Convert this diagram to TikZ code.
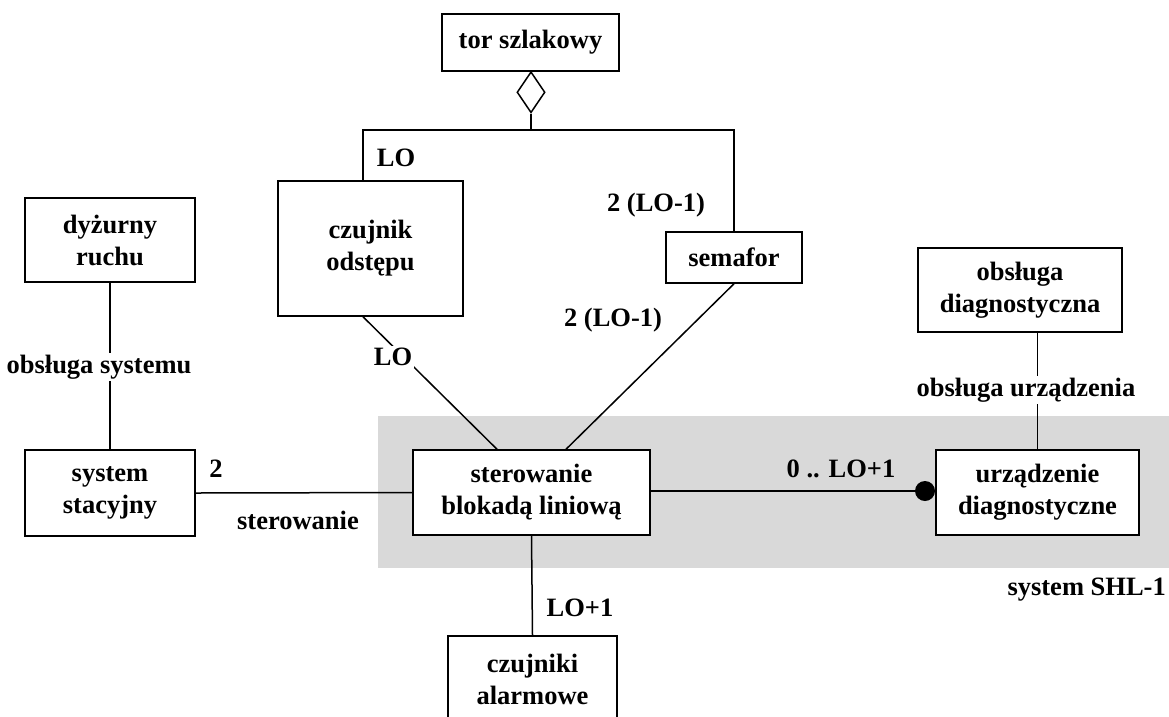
\documentclass[tikz,border=0pt]{standalone}
\usepackage{fontspec}
\setmainfont{Liberation Serif}
\usetikzlibrary{shapes.geometric,calc}
\definecolor{sysgray}{RGB}{217,217,217}
\newcommand{\lblfont}{\fontsize{26.5}{32}\selectfont\bfseries}
\tikzset{
  box/.style={draw, line width=1.5pt, fill=white, align=center, inner sep=0pt, font=\lblfont},
  conn/.style={line width=1.5pt},
  lbl/.style={font=\lblfont, inner sep=1pt},
  lblw/.style={font=\lblfont, inner sep=2pt, fill=white},
}
\begin{document}
\begin{tikzpicture}[x=1pt,y=-1pt]
\useasboundingbox (0,0) rectangle (1169,716);
\begin{scope}
\clip (0,0) rectangle (1169,716);
% system region
\fill[sysgray] (378,416) rectangle (1169,568);
\node[lbl, anchor=east] (shl) at (1167,590) {system SHL-1};

% nodes
\node[box, minimum width=177, minimum height=57] (tor) at (530.5,42.5) {tor szlakowy};
\node[draw, line width=1.5pt, fill=white, shape=diamond, inner sep=0pt, minimum width=28, minimum height=41, anchor=north] (agg) at (531,71) {};
\coordinate (jM) at (531,130);
\coordinate (jL) at (363,130);
\coordinate (jR) at (734,130);
\node[box, minimum width=185, minimum height=135] (czuj) at (370.5,248.5) {czujnik\\odstępu};
\node[box, minimum width=136, minimum height=51] (sem) at (734,257.5) {semafor};
\node[box, minimum width=170, minimum height=84] (dyz) at (110,240) {dyżurny\\ruchu};
\node[box, minimum width=170, minimum height=86] (sys) at (110,493) {system\\stacyjny};
\node[box, minimum width=237, minimum height=85] (ster) at (531.5,492.5) {sterowanie\\blokadą liniową};
\node[box, minimum width=204, minimum height=84] (obsd) at (1020,290) {obsługa\\diagnostyczna};
\node[box, minimum width=203, minimum height=85] (urz) at (1037.5,492.5) {urządzenie\\diagnostyczne};
\node[box, minimum width=169, minimum height=86] (alarm) at (532.5,679) {czujniki\\alarmowe};
\node[circle, fill=black, inner sep=0pt, minimum size=20] (dot) at (925,491) {};

% connectors
\draw[conn] (agg.south) -- (jM);
\draw[conn] (czuj.north -| jL) -- (jL) -- (jR) -- (sem.north -| jR);
\node[lbl] (lLOa) at (396,158) {LO};
\node[lbl] (lLOb) at (656,205) {2 (LO-1)};

\draw[conn] (czuj.south -| jL) -- ($(ster.north)+(-34.5,0)$);
\node[lblw] (lLOc) at (393,357) {LO};
\draw[conn] (sem.south) -- ($(ster.north)+(34.5,0)$);
\node[lbl] (lLOd) at (613,320) {2 (LO-1)};

\draw[conn] (dyz.south) -- (sys.north);
\node[lblw] (lobs) at (99,367) {obsługa systemu};

\draw[conn] (sys.east) -- (ster.west);
\node[lbl] (l2) at (216,469) {2};
\node[lbl] (lster) at (298,520) {sterowanie};

\draw[conn] (ster.east |- dot) -- (dot.west);
\node[lbl] (lzero) at (841,469) {0 .. LO+1};

\draw[conn] (obsd.south -| urz.north) -- (urz.north);
\node[lblw] (lobu) at (1026,390) {obsługa urządzenia};

\draw[conn] (ster.south) -- (alarm.north);
\node[lbl] (llo1) at (580,608) {LO+1};
\end{scope}
\end{tikzpicture}
\end{document}
